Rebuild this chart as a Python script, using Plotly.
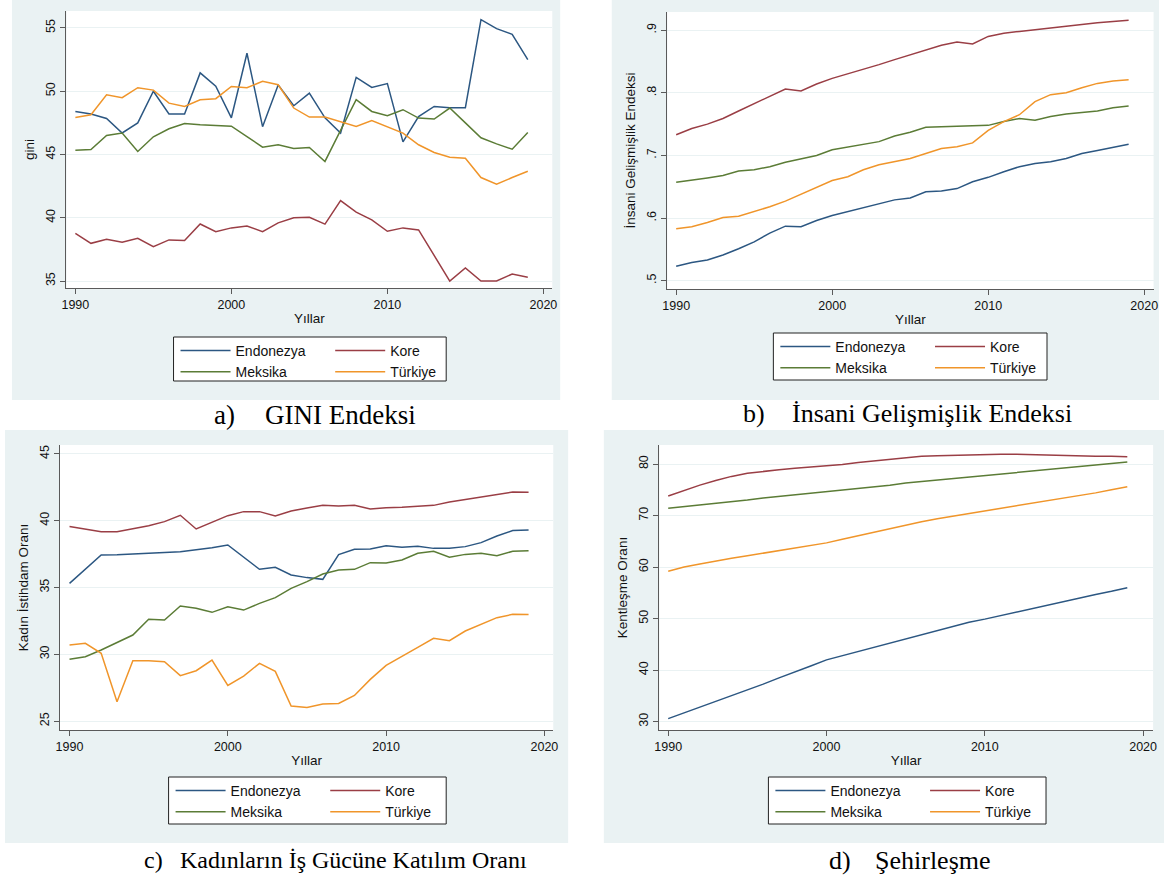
import plotly.graph_objects as go

# ---------------- data ----------------
years = list(range(1990, 2020))
countries = ["Endonezya", "Kore", "Meksika", "Türkiye"]
colors = {"Endonezya": "#2c5782", "Kore": "#9a3e45", "Meksika": "#5b7c36", "Türkiye": "#f0952a"}

gini_endonezya = [48.4, 48.2, 47.85, 46.7, 47.5, 50.0, 48.2, 48.2, 51.45, 50.4, 47.9, 53.0, 47.2, 50.5, 48.85,
                  49.85, 47.9, 46.7, 51.1, 50.3, 50.6, 46.0, 48.0, 48.8, 48.7, 48.7, 55.66, 54.95, 54.5, 52.5]
gini_kore = [38.77, 37.98, 38.3, 38.06, 38.38, 37.72, 38.25, 38.2, 39.51, 38.9, 39.2, 39.35, 38.9, 39.6, 40.0,
             40.04, 39.5, 41.36, 40.44, 39.83, 38.93, 39.2, 39.04, 37.0, 35.0, 36.03, 35.0, 35.0, 35.55, 35.3]
gini_meksika = [45.34, 45.4, 46.5, 46.7, 45.24, 46.4, 47.03, 47.45, 47.35, 47.32, 47.24, 46.42, 45.58, 45.77, 45.47,
                45.55, 44.45, 46.9, 49.33, 48.4, 48.06, 48.54, 47.88, 47.8, 48.67, 47.5, 46.32, 45.84, 45.42, 46.74]
gini_turkiye = [47.93, 48.14, 49.72, 49.49, 50.28, 50.09, 49.06, 48.8, 49.33, 49.41, 50.38, 50.28, 50.78, 50.51, 48.67,
                47.96, 47.96, 47.61, 47.22, 47.69, 47.22, 46.69, 45.77, 45.16, 44.79, 44.71, 43.18, 42.65, 43.18, 43.68]

hdi_endonezya = [0.523, 0.529, 0.533, 0.541, 0.551, 0.562, 0.576, 0.587, 0.586, 0.596, 0.604, 0.610, 0.616, 0.623, 0.629,
                 0.632, 0.642, 0.643, 0.647, 0.658, 0.665, 0.674, 0.682, 0.687, 0.690, 0.695, 0.703, 0.708, 0.713, 0.718]
hdi_kore = [0.733, 0.743, 0.750, 0.759, 0.771, 0.783, 0.794, 0.806, 0.803, 0.814, 0.823, 0.830, 0.838, 0.845, 0.853,
            0.861, 0.869, 0.876, 0.881, 0.878, 0.890, 0.895, 0.898, 0.901, 0.904, 0.907, 0.910, 0.912, 0.914, 0.916]
hdi_meksika = [0.657, 0.660, 0.664, 0.668, 0.675, 0.677, 0.682, 0.689, 0.695, 0.700, 0.709, 0.713, 0.718, 0.722, 0.731,
               0.737, 0.745, 0.746, 0.747, 0.747, 0.748, 0.754, 0.759, 0.756, 0.762, 0.766, 0.768, 0.771, 0.776, 0.779]
hdi_turkiye = [0.583, 0.586, 0.593, 0.601, 0.603, 0.610, 0.618, 0.627, 0.638, 0.648, 0.660, 0.666, 0.677, 0.685, 0.690,
               0.695, 0.703, 0.711, 0.714, 0.720, 0.740, 0.754, 0.765, 0.786, 0.797, 0.800, 0.808, 0.815, 0.819, 0.821]

flfp_endonezya = [35.31, 36.39, 37.43, 37.46, 37.53, 37.58, 37.63, 37.68, 37.81, 37.98, 38.18, 37.26, 36.36, 36.51, 35.94,
                  35.74, 35.61, 37.46, 37.86, 37.88, 38.13, 38.01, 38.08, 37.93, 37.93, 38.06, 38.36, 38.86, 39.26, 39.31]
flfp_kore = [39.56, 39.38, 39.18, 39.18, 39.38, 39.63, 39.93, 40.41, 39.38, 39.88, 40.38, 40.68, 40.68, 40.36, 40.73,
             40.96, 41.15, 41.10, 41.15, 40.88, 40.98, 41.0, 41.05, 41.15, 41.40, 41.60, 41.75, 41.95, 42.15, 42.13]
flfp_meksika = [29.62, 29.82, 30.32, 30.87, 31.44, 32.62, 32.57, 33.61, 33.44, 33.14, 33.56, 33.31, 33.81, 34.24, 34.94,
                35.44, 36.01, 36.31, 36.36, 36.86, 36.84, 37.06, 37.56, 37.71, 37.26, 37.48, 37.56, 37.38, 37.71, 37.76]
flfp_turkiye = [30.69, 30.82, 30.07, 26.45, 29.52, 29.52, 29.44, 28.40, 28.77, 29.57, 27.67, 28.37, 29.32, 28.72, 26.12,
                26.02, 26.27, 26.32, 26.92, 28.12, 29.17, 29.87, 30.52, 31.19, 31.02, 31.74, 32.27, 32.74, 32.99, 32.97]

urb_endonezya = [30.6, 31.7, 32.8, 33.9, 35.0, 36.1, 37.3, 38.5, 39.6, 40.8, 42.0, 42.8, 43.6, 44.4, 45.2,
                 46.1, 46.9, 47.7, 48.5, 49.3, 49.9, 50.6, 51.3, 52.0, 52.7, 53.3, 54.0, 54.7, 55.3, 56.0]
urb_kore = [73.8, 74.9, 75.9, 76.8, 77.6, 78.2, 78.6, 78.9, 79.2, 79.4, 79.6, 79.9, 80.3, 80.6, 80.9,
            81.3, 81.5, 81.6, 81.7, 81.8, 81.9, 81.9, 81.9, 81.8, 81.7, 81.6, 81.6, 81.5, 81.5, 81.4]
urb_meksika = [71.4, 71.7, 72.0, 72.4, 72.7, 73.0, 73.4, 73.7, 74.0, 74.4, 74.7, 75.0, 75.3, 75.6, 75.9,
               76.3, 76.6, 76.9, 77.2, 77.5, 77.8, 78.1, 78.4, 78.7, 79.0, 79.3, 79.6, 79.9, 80.2, 80.4]
urb_turkiye = [59.2, 60.0, 60.6, 61.2, 61.7, 62.2, 62.7, 63.2, 63.7, 64.2, 64.7, 65.4, 66.1, 66.8, 67.5,
               68.2, 68.8, 69.4, 69.9, 70.4, 70.8, 71.4, 71.9, 72.4, 72.9, 73.4, 73.9, 74.4, 75.0, 75.6]

x_ticks = [1990, 2000, 2010, 2020]
gini_ticks = [35, 40, 45, 50, 55]
hdi_ticks = [0.5, 0.6, 0.7, 0.8, 0.9]
hdi_ticktext = [".5", ".6", ".7", ".8", ".9"]
flfp_ticks = [25, 30, 35, 40, 45]
urb_ticks = [30, 40, 50, 60, 70, 80]

x_title = "Yıllar"
y_titles = ["gini", "İnsani Gelişmişlik Endeksi", "Kadın İstihdam Oranı", "Kentleşme Oranı"]
caption_labels = ["a)", "b)", "c)", "d)"]
caption_texts = ["GINI Endeksi", "İnsani Gelişmişlik Endeksi", "Kadınların İş Gücüne Katılım Oranı", "Şehirleşme"]

panels = [
    {"series": [gini_endonezya, gini_kore, gini_meksika, gini_turkiye], "yticks": gini_ticks, "yticktext": None},
    {"series": [hdi_endonezya, hdi_kore, hdi_meksika, hdi_turkiye], "yticks": hdi_ticks, "yticktext": hdi_ticktext},
    {"series": [flfp_endonezya, flfp_kore, flfp_meksika, flfp_turkiye], "yticks": flfp_ticks, "yticktext": None},
    {"series": [urb_endonezya, urb_kore, urb_meksika, urb_turkiye], "yticks": urb_ticks, "yticktext": None},
]

# ---------------- layout geometry (pixels) ----------------
W, H = 1169, 881
SANS = "Liberation Sans, Arial, sans-serif"
SERIF = "Liberation Serif, Times New Roman, serif"
BG = "#eaf2f3"
AX = "#5a5a5a"

geo = [
    dict(plot=(62, 552, 11, 288), xr=(1989.43, 2020.57), yr=(34.45, 56.34), bg=(7, 560, 0, 400),
         leg=(170, 445, 337, 381), cap_y=415, lab_x=221, txt_x=338, cap_size=27, ytitle_standoff=6),
    dict(plot=(668, 1158.5, 12, 289), xr=(1989.43, 2020.6), yr=(0.4867, 0.929), bg=(612, 1164, 0, 400),
         leg=(775, 1051, 333, 380), cap_y=413, lab_x=755, txt_x=935, cap_size=26, ytitle_standoff=6),
    dict(plot=(55.5, 553, 445, 730), xr=(1989.4, 2020.56), yr=(24.33, 45.67), bg=(0, 568, 430, 843),
         leg=(165, 445, 777, 824), cap_y=860, lab_x=150, txt_x=352, cap_size=24, ytitle_standoff=6),
    dict(plot=(660, 1158, 445, 730), xr=(1989.44, 2020.63), yr=(28.39, 83.69), bg=(604, 1169, 430, 843),
         leg=(770, 1050, 777, 824), cap_y=860, lab_x=842, txt_x=936, cap_size=26, ytitle_standoff=6),
]

def px_x(v):
    return v / W

def px_y(v):
    return 1 - v / H

fig = go.Figure()
shapes = []
annotations = []
layout = dict(width=W, height=H, margin=dict(l=0, r=0, t=0, b=0), autosize=False,
              paper_bgcolor="white", plot_bgcolor="rgba(0,0,0,0)", showlegend=True, hovermode=False)

for i, (p, g) in enumerate(zip(panels, geo)):
    n = "" if i == 0 else str(i + 1)
    xa, ya = "x" + n, "y" + n
    l, r, t, b = g["plot"]
    bl, br, bt, bb = g["bg"]
    shapes.append(dict(type="rect", xref="paper", yref="paper", x0=px_x(bl), x1=px_x(br), y0=px_y(bb), y1=px_y(bt),
                       fillcolor=BG, line=dict(width=0), layer="below"))
    shapes.append(dict(type="rect", xref="paper", yref="paper", x0=px_x(l), x1=px_x(r), y0=px_y(b), y1=px_y(t),
                       fillcolor="white", line=dict(width=0), layer="below"))
    ll, lr, lt, lb = g["leg"]
    shapes.append(dict(type="rect", xref="paper", yref="paper", x0=px_x(ll), x1=px_x(lr), y0=px_y(lb), y1=px_y(lt),
                       fillcolor="white", line=dict(width=1, color="#222"), layer="below"))

    leg_a = "legend" + ("" if i == 0 else str(2 * i + 1))
    leg_b = "legend" + str(2 * i + 2)
    for c, series in zip(countries, p["series"]):
        fig.add_trace(go.Scatter(x=years, y=series, mode="lines", name=c,
                                 line=dict(color=colors[c], width=1.5),
                                 xaxis=xa, yaxis=ya,
                                 legend=leg_a if c in ("Endonezya", "Meksika") else leg_b))
    for key, x0 in ((leg_a, ll + 2), (leg_b, ll + 158)):
        layout[key] = dict(x=px_x(x0), y=px_y(lt - 2), xanchor="left", yanchor="top",
                           bgcolor="rgba(0,0,0,0)", borderwidth=0, itemwidth=50,
                           font=dict(family=SANS, size=14, color="#111"), tracegroupgap=0,
                           itemclick=False, itemdoubleclick=False)

    layout["xaxis" + n] = dict(domain=[px_x(l), px_x(r)], range=list(g["xr"]), anchor=ya, fixedrange=True,
                               tickvals=x_ticks, ticks="outside", ticklen=5, tickcolor=AX, tickwidth=1,
                               showline=True, linecolor=AX, linewidth=1, showgrid=False, zeroline=False,
                               tickfont=dict(family=SANS, size=12.5, color="#111"),
                               title=dict(text=x_title, font=dict(family=SANS, size=13.5, color="#111"), standoff=2))
    ydict = dict(domain=[px_y(b), px_y(t)], range=list(g["yr"]), anchor=xa, fixedrange=True,
                 tickvals=p["yticks"], ticks="outside", ticklen=5, tickcolor=AX, tickwidth=1, tickangle=-90,
                 showline=True, linecolor=AX, linewidth=1, showgrid=True, gridcolor=BG, gridwidth=1,
                 zeroline=False, tickfont=dict(family=SANS, size=12.5, color="#111"),
                 title=dict(text=y_titles[i], font=dict(family=SANS, size=13.5, color="#111"),
                            standoff=g["ytitle_standoff"]))
    if p["yticktext"]:
        ydict["ticktext"] = p["yticktext"]
    layout["yaxis" + n] = ydict

    annotations.append(dict(text=caption_labels[i], xref="paper", yref="paper", x=px_x(g["lab_x"]), y=px_y(g["cap_y"]),
                            xanchor="center", yanchor="middle", showarrow=False,
                            font=dict(family=SERIF, size=g["cap_size"], color="black")))
    annotations.append(dict(text=caption_texts[i], xref="paper", yref="paper", x=px_x(g["txt_x"]), y=px_y(g["cap_y"]),
                            xanchor="center", yanchor="middle", showarrow=False,
                            font=dict(family=SERIF, size=g["cap_size"], color="black")))

layout["shapes"] = shapes
layout["annotations"] = annotations
fig.update_layout(**layout)
fig.write_html("out.html", config={"displayModeBar": False},
               post_script="document.body.style.margin='0';")
